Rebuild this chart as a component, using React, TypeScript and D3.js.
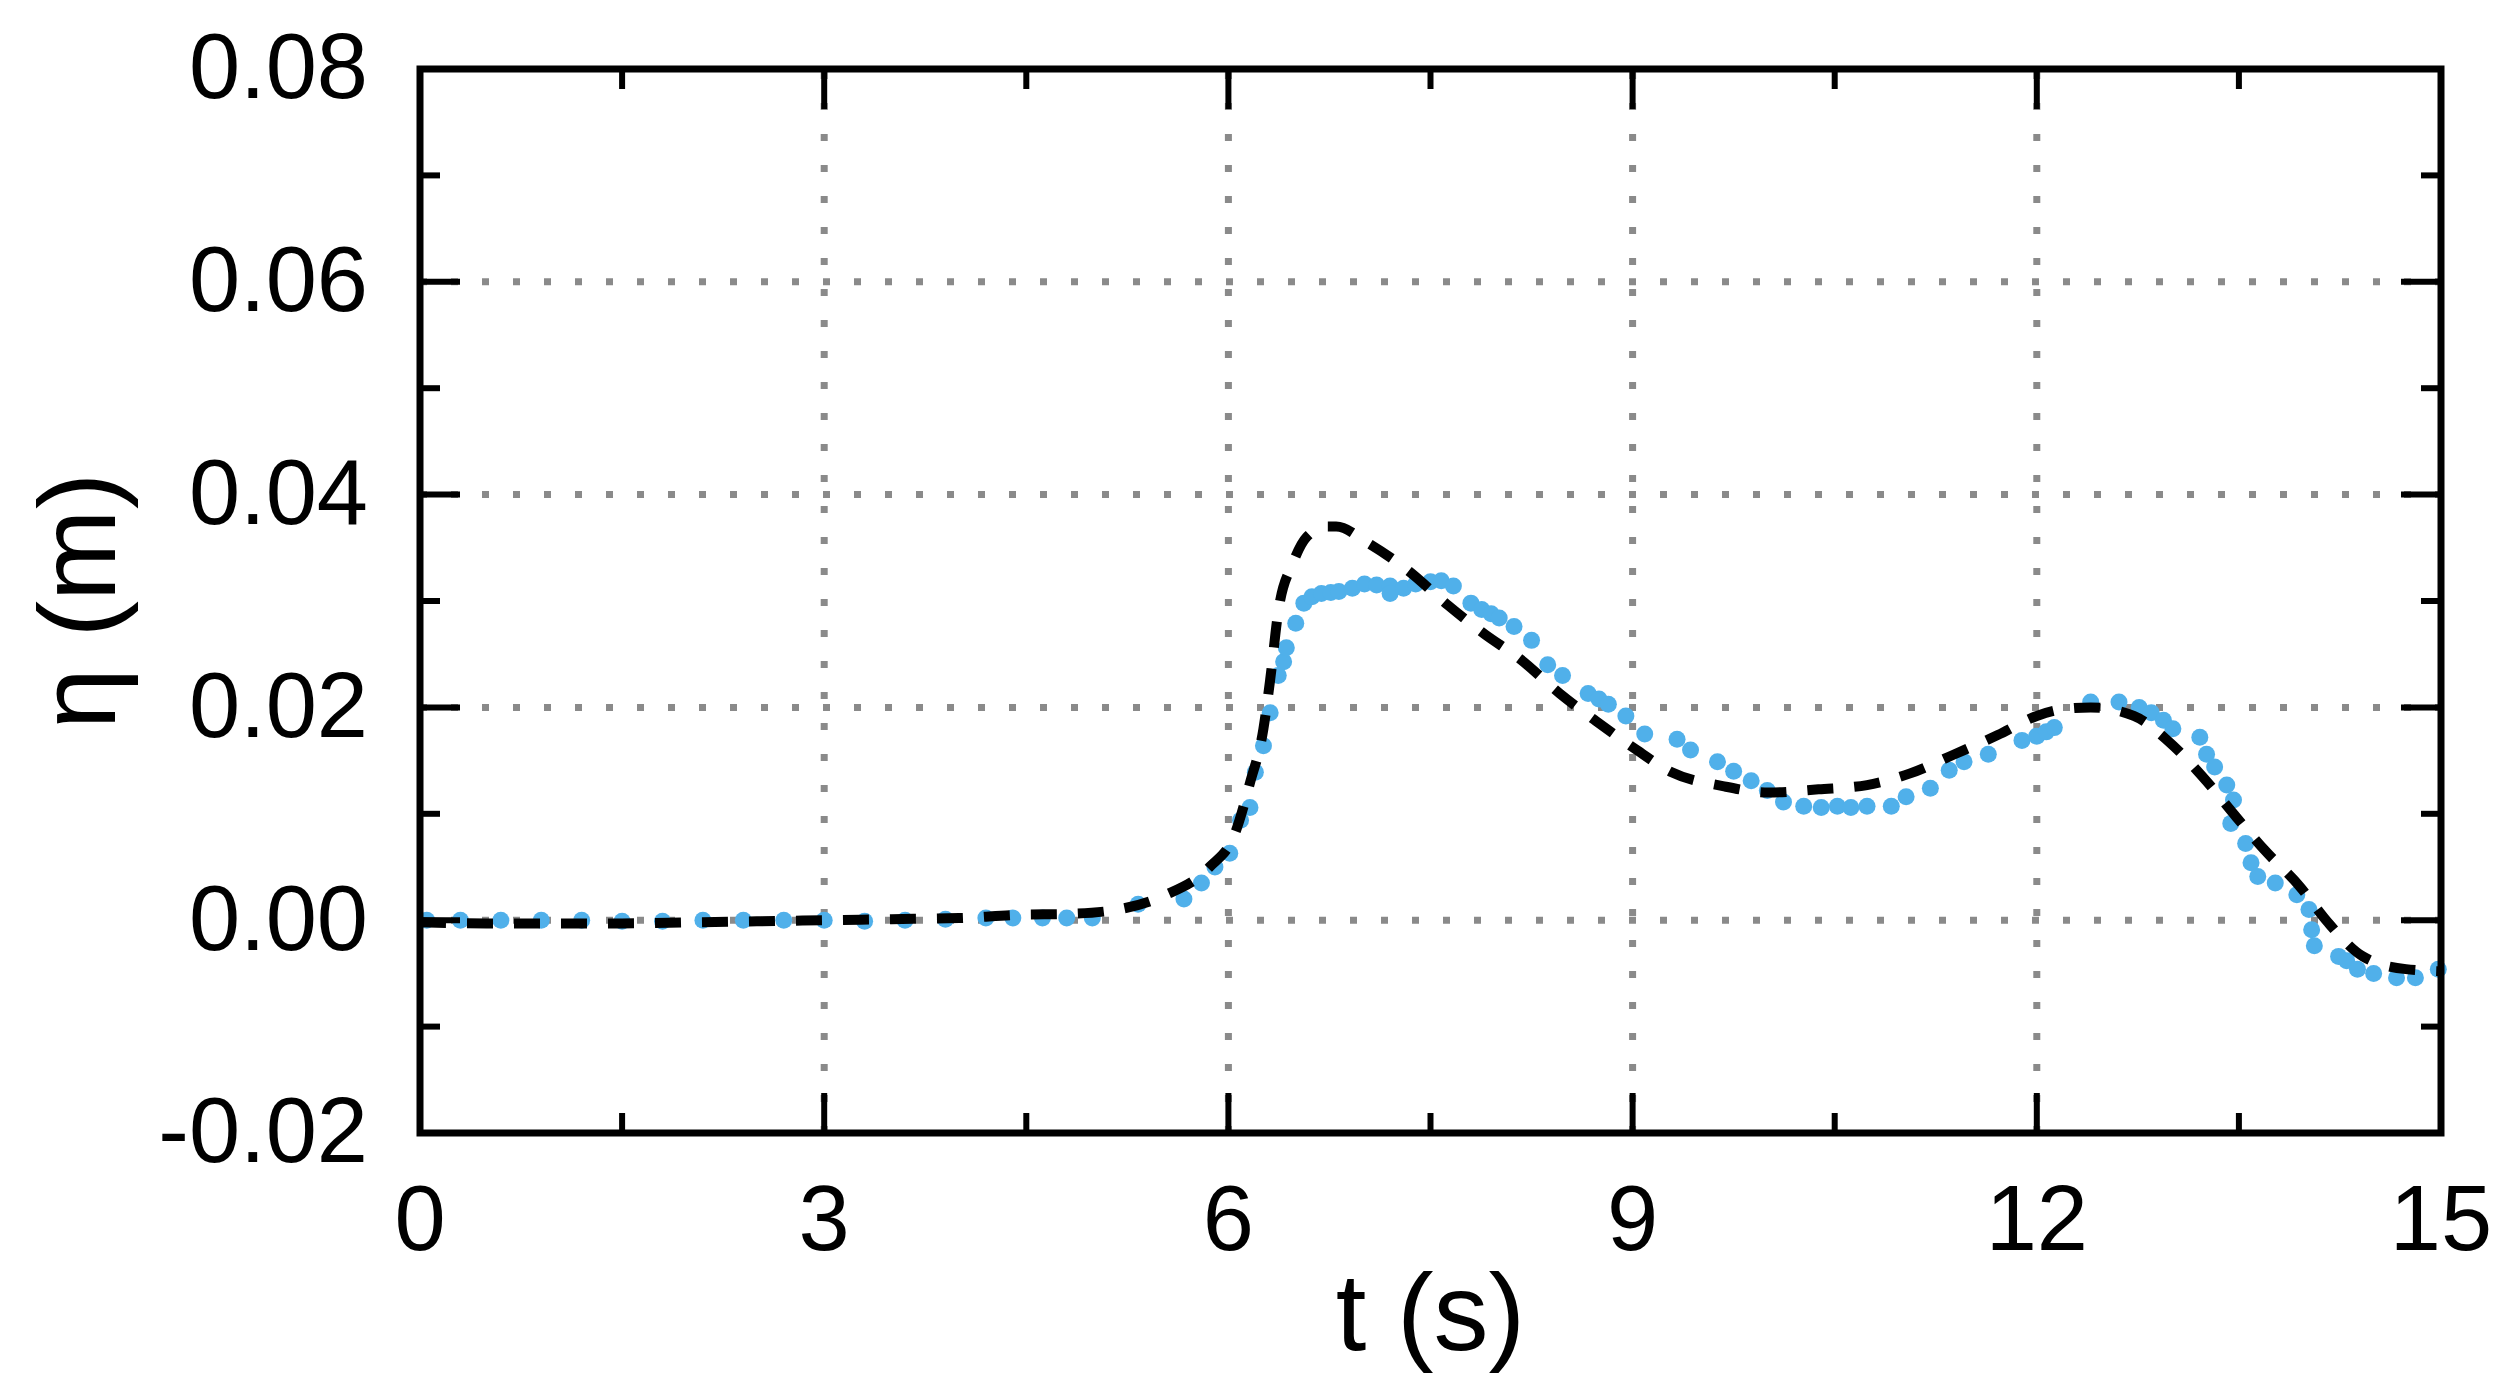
import React, { useEffect, useRef } from 'react'
import * as d3 from 'd3'

// numerical result (dashed black)
const numT = [0, 0.5, 1.0, 1.5, 2.0, 2.5, 3.0, 3.5, 4.0, 4.43, 4.84, 5.22, 5.52, 5.86, 6.05, 6.16, 6.26, 6.31, 6.37, 6.48, 6.58, 6.73, 6.8, 7.03, 7.33, 7.63, 7.9, 8.16, 8.46, 8.73, 9.03, 9.29, 9.67, 10.01, 10.38, 10.74, 11.06, 11.39, 11.71, 12.0, 12.18, 12.4, 12.72, 12.97, 13.23, 13.48, 13.69, 13.95, 14.16, 14.42, 14.74, 15.0]
const numEta = [-0.0002, -0.0003, -0.0003, -0.0003, -0.0002, -0.0001, 0.0, 0.0001, 0.0002, 0.0005, 0.0006, 0.0011, 0.0023, 0.005, 0.0082, 0.0129, 0.018, 0.0226, 0.029, 0.0336, 0.036, 0.037, 0.037, 0.0355, 0.0329, 0.0296, 0.0269, 0.0246, 0.0213, 0.0187, 0.016, 0.0139, 0.0126, 0.012, 0.0123, 0.0127, 0.0138, 0.0156, 0.0174, 0.0192, 0.0198, 0.02, 0.0192, 0.0169, 0.0135, 0.0097, 0.0066, 0.0032, -0.0002, -0.0034, -0.0046, -0.0048]

// measured (blue dots)
const expT = [0.05, 0.3, 0.6, 0.9, 1.2, 1.5, 1.8, 2.1, 2.4, 2.7, 3.0, 3.3, 3.6, 3.9, 4.2, 4.4, 4.62, 4.8, 4.99, 5.33, 5.67, 5.8, 5.9, 6.01, 6.09, 6.16, 6.2, 6.26, 6.31, 6.37, 6.41, 6.43, 6.5, 6.56, 6.62, 6.69, 6.76, 6.82, 6.92, 7.01, 7.1, 7.2, 7.2, 7.3, 7.39, 7.5, 7.58, 7.67, 7.8, 7.88, 7.95, 8.01, 8.12, 8.25, 8.37, 8.48, 8.67, 8.75, 8.82, 8.95, 9.09, 9.33, 9.43, 9.63, 9.75, 9.88, 10.0, 10.12, 10.27, 10.4, 10.52, 10.62, 10.74, 10.92, 11.03, 11.21, 11.35, 11.46, 11.64, 11.89, 12.0, 12.07, 12.13, 12.4, 12.61, 12.76, 12.85, 12.94, 13.01, 13.21, 13.26, 13.32, 13.41, 13.46, 13.44, 13.55, 13.59, 13.64, 13.77, 13.93, 14.02, 14.04, 14.06, 14.24, 14.3, 14.38, 14.5, 14.67, 14.81, 14.98]
const expEta = [0.0, 0.0, 0.0, 0.0, 0.0, -0.0001, -0.0001, 0.0, 0.0, 0.0, 0.0, -0.0001, 0.0, 0.0001, 0.0002, 0.0002, 0.0002, 0.0002, 0.0002, 0.0015, 0.002, 0.0035, 0.005, 0.0063, 0.0094, 0.0106, 0.0139, 0.0164, 0.0195, 0.023, 0.0243, 0.0256, 0.0279, 0.0298, 0.0304, 0.0307, 0.0308, 0.0309, 0.0312, 0.0316, 0.0315, 0.0314, 0.0307, 0.0312, 0.0316, 0.0318, 0.0319, 0.0314, 0.0298, 0.0292, 0.0288, 0.0284, 0.0276, 0.0263, 0.024, 0.023, 0.0213, 0.0208, 0.0203, 0.0192, 0.0175, 0.017, 0.016, 0.0149, 0.014, 0.0131, 0.0122, 0.0111, 0.0107, 0.0106, 0.0107, 0.0106, 0.0107, 0.0107, 0.0116, 0.0124, 0.0141, 0.0149, 0.0156, 0.0169, 0.0173, 0.0177, 0.0181, 0.0205, 0.0205, 0.02, 0.0195, 0.0188, 0.018, 0.0172, 0.0156, 0.0144, 0.0127, 0.0113, 0.0091, 0.0072, 0.0054, 0.0041, 0.0035, 0.0024, 0.001, -0.0009, -0.0024, -0.0034, -0.0038, -0.0046, -0.005, -0.0054, -0.0054, -0.0046]

const xTicks = [0, 3, 6, 9, 12, 15]
const yTicks = [-0.02, 0, 0.02, 0.04, 0.06, 0.08]
const yTickLabels = ['-0.02', '0.00', '0.02', '0.04', '0.06', '0.08']

const App = () => {
	const ref = useRef(null)

	useEffect(() => {
		document.body.style.margin = '0'
		document.body.style.overflow = 'hidden'

		const svg = d3.select(ref.current)
		svg.selectAll('*').remove()

		const left = 420,
			right = 2441,
			top = 69,
			bottom = 1133
		const font = '"Liberation Sans", Arial, sans-serif'

		const x = d3.scaleLinear().domain([0, 15]).range([left, right])
		const y = d3.scaleLinear().domain([-0.02, 0.08]).range([bottom, top])

		// dotted grid at inner major ticks
		const grid = svg.append('g')
		grid.selectAll('line.vx')
			.data(xTicks.slice(1, -1))
			.enter()
			.append('line')
			.attr('x1', d => x(d))
			.attr('x2', d => x(d))
			.attr('y1', bottom)
			.attr('y2', top)
			.attr('stroke', '#8a8a8a')
			.attr('stroke-width', 7)
			.attr('stroke-dasharray', '7 24')
		grid.selectAll('line.hy')
			.data(yTicks.slice(1, -1))
			.enter()
			.append('line')
			.attr('x1', left)
			.attr('x2', right)
			.attr('y1', d => y(d))
			.attr('y2', d => y(d))
			.attr('stroke', '#8a8a8a')
			.attr('stroke-width', 7)
			.attr('stroke-dasharray', '7 24')

		// measured dots
		svg.append('g')
			.selectAll('circle')
			.data(expT.map((t, i) => ({ t, v: expEta[i] })))
			.enter()
			.append('circle')
			.attr('cx', d => x(d.t))
			.attr('cy', d => y(d.v))
			.attr('r', 8.5)
			.attr('fill', '#50b0ea')

		// numerical dashed line
		const line = d3.line()
			.x(d => x(d[0]))
			.y(d => y(d[1]))
			.curve(d3.curveMonotoneX)
		svg.append('path')
			.datum(numT.map((t, i) => [t, numEta[i]]))
			.attr('d', line)
			.attr('fill', 'none')
			.attr('stroke', '#000')
			.attr('stroke-width', 10)
			.attr('stroke-dasharray', '26 21')

		// ticks on all four sides, pointing in
		const ax = svg.append('g').attr('stroke', '#000').attr('stroke-width', 6)
		const xMinor = d3.range(0, 15.01, 1.5)
		const yMinor = d3.range(-0.02, 0.0801, 0.01)
		xMinor.forEach(t => {
			const len = xTicks.some(m => Math.abs(m - t) < 1e-6) ? 40 : 20
			ax.append('line').attr('x1', x(t)).attr('x2', x(t)).attr('y1', bottom).attr('y2', bottom - len)
			ax.append('line').attr('x1', x(t)).attr('x2', x(t)).attr('y1', top).attr('y2', top + len)
		})
		yMinor.forEach(v => {
			const len = yTicks.some(m => Math.abs(m - v) < 1e-6) ? 40 : 20
			ax.append('line').attr('x1', left).attr('x2', left + len).attr('y1', y(v)).attr('y2', y(v))
			ax.append('line').attr('x1', right).attr('x2', right - len).attr('y1', y(v)).attr('y2', y(v))
		})

		svg.append('rect')
			.attr('x', left)
			.attr('y', top)
			.attr('width', right - left)
			.attr('height', bottom - top)
			.attr('fill', 'none')
			.attr('stroke', '#000')
			.attr('stroke-width', 7)

		// tick labels
		svg.append('g')
			.selectAll('text')
			.data(xTicks)
			.enter()
			.append('text')
			.attr('x', d => x(d))
			.attr('y', bottom + 117)
			.attr('text-anchor', 'middle')
			.attr('font-family', font)
			.attr('font-size', 92)
			.text(d => d)
		svg.append('g')
			.selectAll('text')
			.data(yTicks)
			.enter()
			.append('text')
			.attr('x', 368)
			.attr('y', d => y(d))
			.attr('dy', '0.32em')
			.attr('text-anchor', 'end')
			.attr('font-family', font)
			.attr('font-size', 92)
			.text((d, i) => yTickLabels[i])

		// axis titles
		svg.append('text')
			.attr('x', (left + right) / 2)
			.attr('y', 1350)
			.attr('text-anchor', 'middle')
			.attr('font-family', font)
			.attr('font-size', 110)
			.text('t (s)')
		svg.append('text')
			.attr('transform', 'translate(115,' + (top + bottom) / 2 + ') rotate(-90)')
			.attr('text-anchor', 'middle')
			.attr('font-family', font)
			.attr('font-size', 110)
			.text('η (m)')
	}, [])

	return (
		<svg
			ref={ref}
			width={2512}
			height={1394}
			style={{ position: 'absolute', left: 0, top: 0, background: '#fff', display: 'block' }}
		></svg>
	)
}

export default App
